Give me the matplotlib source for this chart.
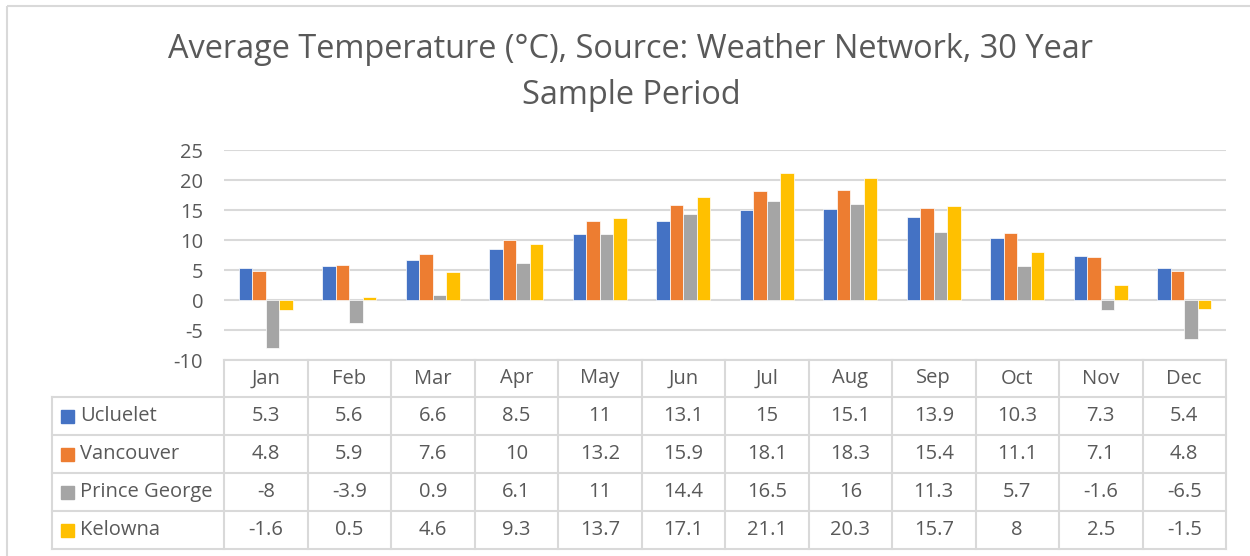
import matplotlib.pyplot as plt
import numpy as np
from matplotlib.patches import Rectangle

plt.rcParams['font.family'] = ['Open Sans', 'DejaVu Sans']

## Donnees
months = ["Jan", "Feb", "Mar", "Apr", "May", "Jun", "Jul", "Aug", "Sep", "Oct", "Nov", "Dec"]
cities = ["Ucluelet", "Vancouver", "Prince George", "Kelowna"]
ucluelet = [5.3, 5.6, 6.6, 8.5, 11, 13.1, 15, 15.1, 13.9, 10.3, 7.3, 5.4]
vancouver = [4.8, 5.9, 7.6, 10, 13.2, 15.9, 18.1, 18.3, 15.4, 11.1, 7.1, 4.8]
prince_george = [-8, -3.9, 0.9, 6.1, 11, 14.4, 16.5, 16, 11.3, 5.7, -1.6, -6.5]
kelowna = [-1.6, 0.5, 4.6, 9.3, 13.7, 17.1, 21.1, 20.3, 15.7, 8, 2.5, -1.5]
series = [ucluelet, vancouver, prince_george, kelowna]
colors = ["#4472C4", "#ED7D31", "#A5A5A5", "#FFC000"]
yticks = [-10, -5, 0, 5, 10, 15, 20, 25]

W, H = 1250, 556
grey_txt = "#595959"
grey_line = "#D9D9D9"
fs = 14.5

fig = plt.figure(figsize=(W / 100, H / 100), dpi=100)

# zone de trace (en pixels)
x0, x1 = 224, 1226
y_top, y_bot = 150, 360
ax = fig.add_axes([x0 / W, 1 - y_bot / H, (x1 - x0) / W, (y_bot - y_top) / H])

n = len(series)
bw = 0.162
x = np.arange(len(months))
for i in range(n):
    ax.bar(x + (i - (n - 1) / 2) * bw, series[i], bw, color=colors[i],
           edgecolor="white", linewidth=0.5, zorder=3)

ax.set_xlim(-0.5, len(months) - 0.5)
ax.set_ylim(-10, 25)
ax.set_yticks(yticks)
ax.set_yticklabels([str(t) for t in yticks], fontsize=fs, color=grey_txt)
ax.set_xticks([])
ax.tick_params(axis="y", length=0, pad=15)
ax.yaxis.grid(True, color=grey_line, linewidth=1.5, zorder=0)
for s in ax.spines.values():
    s.set_visible(False)
ax.set_facecolor("none")

# calque en pixels pour le cadre, le titre et le tableau
ov = fig.add_axes([0, 0, 1, 1], zorder=-1)
ov.set_xlim(0, W)
ov.set_ylim(H, 0)
ov.axis("off")

ov.add_patch(Rectangle((6.5, 5.5), W, H, fill=False, edgecolor=grey_line, linewidth=1.5))

ov.text(631, 50, "Average Temperature (°C), Source: Weather Network, 30 Year",
        ha="center", va="center", fontsize=23.4, color=grey_txt)
ov.text(631, 96, "Sample Period", ha="center", va="center", fontsize=23.4, color=grey_txt)

## Tableau
lab_x0 = 52
col_w = (x1 - x0) / len(months)
row_h = 38
head_top = y_bot
rows_top = head_top + 37
tab_bot = rows_top + row_h * n
lc = grey_line
lw = 1.5

# lignes horizontales
ov.plot([x0, x1], [head_top, head_top], color=lc, lw=lw)
for r in range(n + 1):
    ov.plot([lab_x0, x1], [rows_top + r * row_h] * 2, color=lc, lw=lw)
# lignes verticales
ov.plot([lab_x0, lab_x0], [rows_top, tab_bot], color=lc, lw=lw)
for c in range(len(months) + 1):
    ov.plot([x0 + c * col_w] * 2, [head_top, tab_bot], color=lc, lw=lw)

for c, m in enumerate(months):
    ov.text(x0 + (c + 0.5) * col_w, (head_top + rows_top) / 2, m,
            ha="center", va="center", fontsize=fs, color=grey_txt)

for r in range(n):
    yc = rows_top + (r + 0.5) * row_h
    ov.add_patch(Rectangle((61, yc - 6.5), 13, 13, color=colors[r]))
    ov.text(80, yc, cities[r], ha="left", va="center", fontsize=fs, color=grey_txt)
    for c in range(len(months)):
        ov.text(x0 + (c + 0.5) * col_w, yc, "{:g}".format(series[r][c]),
                ha="center", va="center", fontsize=fs, color=grey_txt)

plt.savefig("out.png", dpi=100)
